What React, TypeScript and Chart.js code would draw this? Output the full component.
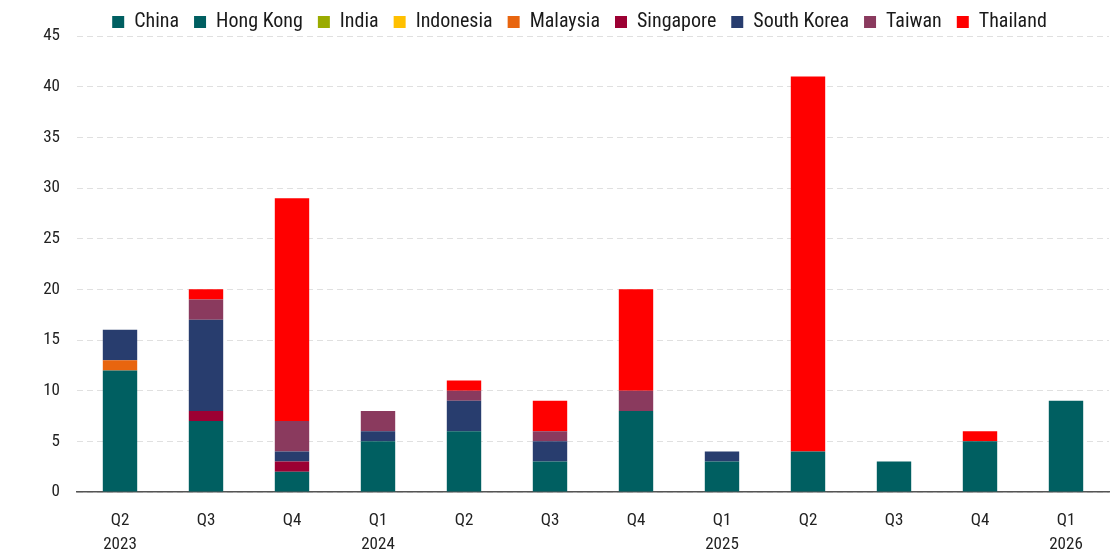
import React, { useEffect, useRef } from "react";
import { Chart, registerables } from "chart.js";

Chart.register(...registerables);

const quarters: string[][] = [
  ["Q2", "2023"], ["Q3", ""], ["Q4", ""], ["Q1", "2024"], ["Q2", ""], ["Q3", ""],
  ["Q4", ""], ["Q1", "2025"], ["Q2", ""], ["Q3", ""], ["Q4", ""], ["Q1", "2026"],
];

const china = [12, 7, 2, 5, 6, 3, 8, 3, 4, 3, 5, 9];
const hongKong = [0, 0, 0, 0, 0, 0, 0, 0, 0, 0, 0, 0];
const india = [0, 0, 0, 0, 0, 0, 0, 0, 0, 0, 0, 0];
const indonesia = [0, 0, 0, 0, 0, 0, 0, 0, 0, 0, 0, 0];
const malaysia = [1, 0, 0, 0, 0, 0, 0, 0, 0, 0, 0, 0];
const singapore = [0, 1, 1, 0, 0, 0, 0, 0, 0, 0, 0, 0];
const southKorea = [3, 9, 1, 1, 3, 2, 0, 1, 0, 0, 0, 0];
const taiwan = [0, 2, 3, 2, 1, 1, 2, 0, 0, 0, 0, 0];
const thailand = [0, 1, 22, 0, 1, 3, 10, 0, 37, 0, 1, 0];

const seriesNames = ["China", "Hong Kong", "India", "Indonesia", "Malaysia", "Singapore", "South Korea", "Taiwan", "Thailand"];
const seriesValues = [china, hongKong, india, indonesia, malaysia, singapore, southKorea, taiwan, thailand];
const seriesColors = ["#005f61", "#005f61", "#9aab00", "#ffc000", "#e8650f", "#9c0033", "#283d6e", "#8a3a5e", "#ff0000"];

const FONT = '"Roboto Condensed", Roboto, sans-serif';

// Fixed legend strip height, and the legend row centred over the plot area.
const legendLayout = {
  id: "legendLayout",
  beforeLayout(chart: any) {
    const legend = chart.legend;
    if (legend && !legend.__fixed) {
      const fit = legend.fit.bind(legend);
      legend.fit = function () {
        fit();
        this.height = 39;
      };
      legend.__fixed = true;
    }
  },
  beforeDraw(chart: any) {
    if (chart.legend) chart.legend.left = 50;
  },
};

export default function App() {
  const canvasRef = useRef<HTMLCanvasElement | null>(null);

  useEffect(() => {
    if (!canvasRef.current) return;
    const chart = new Chart(canvasRef.current, {
      type: "bar",
      data: {
        labels: quarters,
        datasets: seriesNames.map((name, i) => ({
          label: name,
          data: seriesValues[i],
          backgroundColor: seriesColors[i],
          borderWidth: 0,
          barPercentage: 0.8,
          categoryPercentage: 0.5,
        })),
      },
      options: {
        animation: false,
        responsive: true,
        maintainAspectRatio: false,
        layout: { padding: { left: 0, right: 6, top: -3, bottom: 0 } },
        plugins: {
          tooltip: { enabled: false },
          legend: {
            position: "top",
            labels: {
              boxWidth: 12,
              boxHeight: 12,
              padding: 15,
              color: "#1a1a1a",
              font: { family: FONT, size: 20 },
            },
          },
        },
        scales: {
          x: {
            stacked: true,
            grid: { display: false, drawTicks: false },
            border: { color: "#555", width: 1.5 },
            ticks: {
              color: "#222",
              font: { family: FONT, size: 17, lineHeight: 1.4 },
              padding: 17,
              maxRotation: 0,
              autoSkip: false,
            },
            afterFit(scale: any) {
              scale.height = 68;
            },
          },
          y: {
            stacked: true,
            min: 0,
            max: 45,
            border: { display: false, dash: [6, 4] },
            grid: { color: "#e0e0e0", tickLength: 0, drawTicks: false },
            ticks: { stepSize: 5, color: "#222", font: { family: FONT, size: 17 }, padding: 17 },
            afterFit(scale: any) {
              scale.width = 77;
            },
          },
        },
      },
      plugins: [legendLayout],
    });
    return () => chart.destroy();
  }, []);

  return (
    <div style={{ position: "absolute", left: 0, top: 0, width: 1115, height: 560 }}>
      <canvas ref={canvasRef} />
    </div>
  );
}
